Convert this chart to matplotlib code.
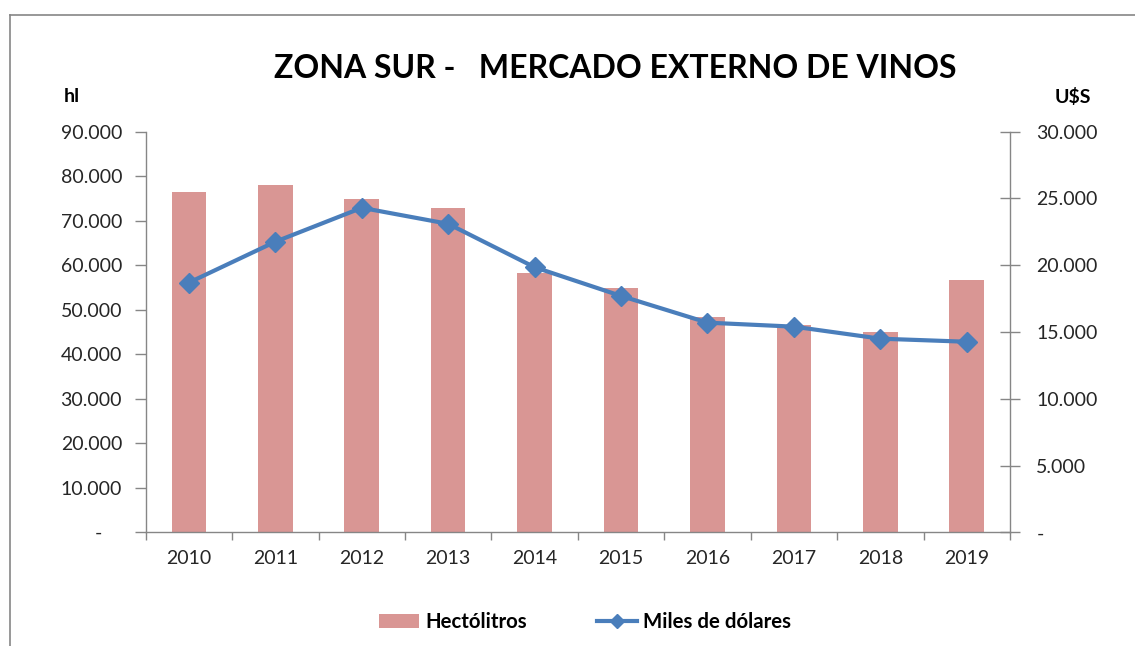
import matplotlib
matplotlib.use("Agg")
import matplotlib.pyplot as plt
from matplotlib.lines import Line2D
from matplotlib.patches import Patch
from matplotlib.ticker import FuncFormatter, MultipleLocator

years = ["2010", "2011", "2012", "2013", "2014", "2015", "2016", "2017", "2018", "2019"]
hectolitros = [76400, 78000, 74900, 72800, 58200, 54800, 48300, 46500, 44900, 56600]
miles_dolares = [18700, 21760, 24300, 23100, 19850, 17700, 15700, 15400, 14500, 14270]

plt.rcParams['font.family'] = ['Lato', 'DejaVu Sans']

W, H = 1135, 646
fig = plt.figure(figsize=(W / 100, H / 100), dpi=100)
ax = fig.add_axes([145.7 / W, 1 - 532.3 / H, (1010 - 145.7) / W, (532.3 - 131.7) / H])
ax2 = ax.twinx()

x = list(range(len(years)))
bar_color = "#D99694"
line_color = "#4A7EBB"
ax.bar(x, hectolitros, width=0.4, color=bar_color, zorder=2)
ax2.plot(x, miles_dolares, color=line_color, lw=3, marker="D", markersize=10, zorder=3)

ax.set_xlim(-0.5, len(years) - 0.5)
ax.set_ylim(0, 90000)
ax2.set_ylim(0, 30000)
ax.yaxis.set_major_locator(MultipleLocator(10000))
ax2.yaxis.set_major_locator(MultipleLocator(5000))

def fmt_left(v, pos):
    if abs(v) < 1e-9:
        return "-    "
    return f"{int(round(v)):,}".replace(",", ".")

def fmt_right(v, pos):
    if abs(v) < 1e-9:
        return "-"
    return f"{int(round(v)):,}".replace(",", ".")

ax.yaxis.set_major_formatter(FuncFormatter(fmt_left))
ax2.yaxis.set_major_formatter(FuncFormatter(fmt_right))

ax.set_xticks(x)
ax.set_xticklabels(years)
ax.set_xticks([i - 0.5 for i in range(len(years) + 1)], minor=True)
ax.tick_params(axis="x", which="major", length=0, pad=13, labelsize=14, colors="#262626")
ax.tick_params(axis="x", which="minor", length=6, color="#868686", width=1)
ax.tick_params(axis="y", length=8, color="#868686", width=1, labelsize=14, labelcolor="#262626", pad=9)
ax2.tick_params(axis="y", direction="inout", length=14, color="#868686", width=1, labelsize=14, labelcolor="#262626", pad=12)

for a in (ax, ax2):
    a.spines["top"].set_visible(False)
    for s in ("left", "right", "bottom"):
        a.spines[s].set_color("#868686")
        a.spines[s].set_linewidth(1)
ax2.spines["left"].set_visible(False)
ax2.spines["bottom"].set_visible(False)
ax.spines["right"].set_visible(False)

fig.text(615 / W, 1 - 68 / H, "ZONA SUR -   MERCADO EXTERNO DE VINOS", ha="center", va="center",
         fontsize=23, fontweight="bold", color="black")
fig.text(72 / W, 1 - 97 / H, "hl", ha="center", va="center", fontsize=14, fontweight="bold")
fig.text(1073 / W, 1 - 97 / H, "U$S", ha="center", va="center", fontsize=14, fontweight="bold")

handles = [Patch(facecolor=bar_color, edgecolor="none"),
           Line2D([0], [0], color=line_color, lw=3, marker="D", markersize=7)]
fig.legend(handles, ["Hectólitros", "Miles de dólares"], loc="center", bbox_to_anchor=(585 / W, 1 - 622 / H),
           ncol=2, frameon=False, prop={"weight": "bold", "size": 14.7}, handlelength=2.0, columnspacing=3.4,
           handletextpad=0.3)

fig.add_artist(Line2D([9.5 / W, 9.5 / W], [0, 1 - 15 / H], color="#868686", lw=1.2, transform=fig.transFigure))
fig.add_artist(Line2D([9.5 / W, 1], [1 - 15 / H, 1 - 15 / H], color="#868686", lw=1.2, transform=fig.transFigure))

fig.savefig("out.png", dpi=100, facecolor="white")
